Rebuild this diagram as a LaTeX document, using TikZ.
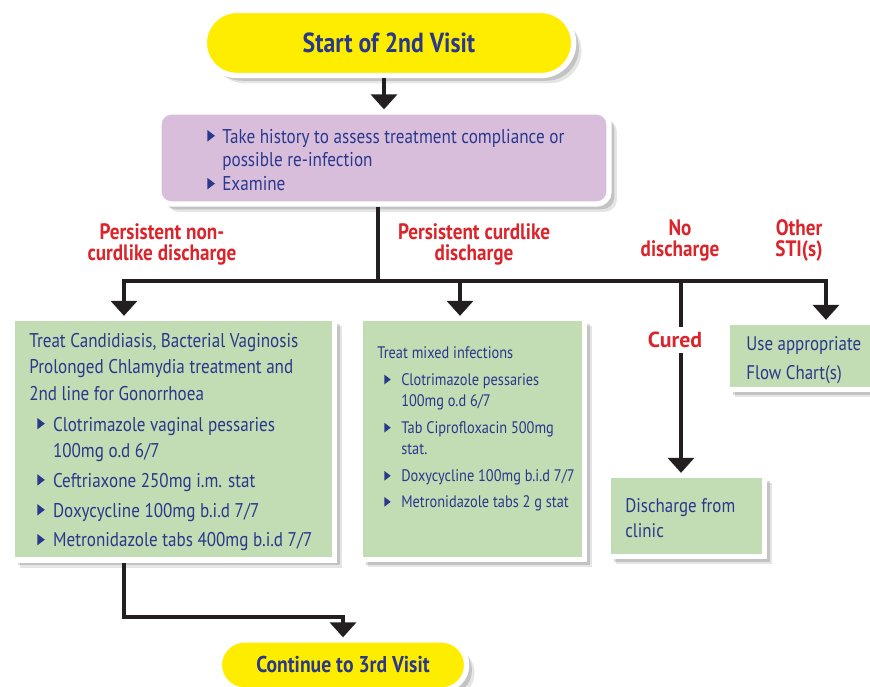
\documentclass[tikz,border=0pt]{standalone}
\usepackage{fontspec}
\setmainfont{PT Sans}[FakeStretch=0.86]
\newfontfamily\curedfont{PT Sans}
\usetikzlibrary{shapes,shapes.misc,arrows.meta,shadows}

\definecolor{navy}{RGB}{41,56,139}
\definecolor{alertred}{RGB}{218,37,44}
\definecolor{lemon}{RGB}{255,237,0}
\definecolor{lilac}{RGB}{217,190,220}
\definecolor{sage}{RGB}{194,220,180}
\definecolor{ink}{RGB}{35,31,32}

\newcommand{\tri}{\tikz[baseline=0pt]\fill[navy] (0,0.08em) -- (0,0.66em) -- (0.38em,0.37em) -- cycle;}
\newcommand{\itm}[2]{\hspace*{#1}\makebox[#2][l]{\tri}}

\begin{document}
\begin{tikzpicture}[scale=1.0000]
	\tikzstyle{every node}=[scale=1.0000]
	\tikzstyle{conn}=[draw=ink, line width=2.0pt]
	\tikzstyle{arr}=[conn, -{Triangle[width=0.5200cm,length=0.3000cm]}]
	\tikzstyle{boxshadow}=[drop shadow={shadow xshift=4.5pt,shadow yshift=-4.5pt,opacity=0.10,fill=black}, drop shadow={shadow xshift=3pt,shadow yshift=-3pt,opacity=0.15,fill=black}]
	\tikzstyle{oval}=[rounded rectangle, draw=white, line width=3pt, fill=lemon, boxshadow, text=navy]
	\tikzstyle{greenbox}=[rectangle, draw=white, line width=3pt, fill=sage, boxshadow]
	\tikzstyle{lilacbox}=[rectangle, rounded corners=0.2400cm, draw=white, line width=3pt, fill=lilac, boxshadow]
	\tikzstyle{boxtext}=[anchor=base west, align=left, text=navy, inner sep=0pt]
	\tikzstyle{branch}=[anchor=base, align=center, text=alertred, inner sep=0pt, font=\bfseries\fontsize{12.7}{12}\selectfont]
	
	\useasboundingbox (0.0000,0.0000) rectangle (17.4000,13.7400);
	
	%% visit boxes
	\node [oval, minimum width=7.6200cm, minimum height=1.3000cm, font=\bfseries\fontsize{15.7}{17}\selectfont]  (start) at (7.7800,12.8800)  {Start of 2nd Visit};
	\node [lilacbox, minimum width=9.0000cm, minimum height=1.8400cm]  (hist) at (7.6800,10.5800)  {};
	\node [boxtext, font=\fontsize{11.35}{13}\selectfont]  (histtxt) at (4.1400,9.9200)  {\itm{0pt}{8.5pt}Take history to assess treatment compliance or\\ \hspace*{8.5pt}possible re-infection\\[1.2pt] \itm{0pt}{8.5pt}Examine};
	
	%% treatment boxes
	\node [greenbox, minimum width=6.4400cm, minimum height=4.8300cm]  (treatcb) at (3.4700,4.9550)  {};
	\node [greenbox, minimum width=4.4800cm, minimum height=4.8200cm]  (mixed) at (9.4500,4.9600)  {};
	\node [greenbox, minimum width=3.1200cm, minimum height=1.6200cm]  (disch) at (13.7300,3.4200)  {};
	\node [greenbox, minimum width=3.0500cm, minimum height=1.3400cm]  (flow) at (16.0750,6.6200)  {};
	\node [oval, minimum width=5.1800cm, minimum height=1.0000cm, font=\bfseries\fontsize{13}{15}\selectfont]  (cont) at (6.8600,0.4400)  {Continue to 3rd Visit};
	
	\node [boxtext, font=\fontsize{11.3}{15}\selectfont]  (cbtxt) at (0.5800,2.8000)  {Treat Candidiasis, Bacterial Vaginosis\\ Prolonged Chlamydia treatment and\\ 2nd line for Gonorrhoea\\[2.5pt] \itm{4.5pt}{9pt}Clotrimazole vaginal pessaries\\ \hspace*{13.5pt}100mg o.d 6/7\\[2pt] \itm{4.5pt}{9pt}Ceftriaxone 250mg i.m. stat\\[2pt] \itm{4.5pt}{9pt}Doxycycline 100mg b.i.d 7/7\\[2pt] \itm{4.5pt}{9pt}Metronidazole tabs 400mg b.i.d 7/7};
	\node [boxtext, font=\fontsize{9.5}{12}\selectfont]  (mixedtxt) at (7.5400,3.5800)  {Treat mixed infections\\[3.4pt] \itm{4pt}{9.6pt}Clotrimazole pessaries\\ \hspace*{13.6pt}100mg o.d 6/7\\[3.4pt] \itm{4pt}{9.6pt}Tab Ciprofloxacin 500mg\\ \hspace*{13.6pt}stat.\\[3.4pt] \itm{4pt}{9.6pt}Doxycycline 100mg b.i.d 7/7\\[2.8pt] \itm{4pt}{9.6pt}Metronidazole tabs 2 g stat};
	\node [boxtext, font=\fontsize{11.2}{14.7}\selectfont]  (dischtxt) at (12.5000,2.9800)  {Discharge from\\ clinic};
	\node [boxtext, font=\fontsize{11.2}{17}\selectfont]  (flowtxt) at (14.9200,6.1400)  {Use appropriate\\ Flow Chart(s)};
	
	%% branch labels
	\node [branch]  (lnon) at (3.2400,8.5200)  {Persistent non-\\curdlike discharge};
	\node [branch]  (lcurd) at (9.4800,8.5200)  {Persistent curdlike\\discharge};
	\node [branch]  (lnone) at (13.6000,8.6000)  {No\\discharge};
	\node [branch]  (lsti) at (15.9800,8.6000)  {Other\\STI(s)};
	\node [text=alertred, inner xsep=0pt, inner ysep=2.5pt, font=\curedfont\bfseries\fontsize{12.4}{14}\selectfont]  (cured) at (13.5000,6.9400)  {Cured};
	
	%% connectors
	\coordinate (split) at (7.5600,8.1200);
	\coordinate (bl) at (2.4800,8.1200);
	\coordinate (bm) at (9.2000,8.1200);
	\coordinate (bn) at (13.6200,8.1200);
	\coordinate (br) at (16.5200,8.1200);
	\coordinate (turn) at (2.4800,1.4000);
	
	\draw [arr]  (start.south -| hist.north) -- (hist.north);
	\draw [conn]  (hist.south -| split) -- (split);
	\draw [arr]  (split) -| (bl |- treatcb.north);
	\draw [arr]  (split) -| (br |- flow.north);
	\draw [arr]  (bm) -- (bm |- mixed.north);
	\draw [conn]  (bn) -- (bn |- cured.north);
	\draw [arr]  (bn |- cured.south) -- (bn |- disch.north);
	\draw [arr]  (bl |- treatcb.south) -- (turn) -| (cont.north);

\end{tikzpicture}
\end{document}
